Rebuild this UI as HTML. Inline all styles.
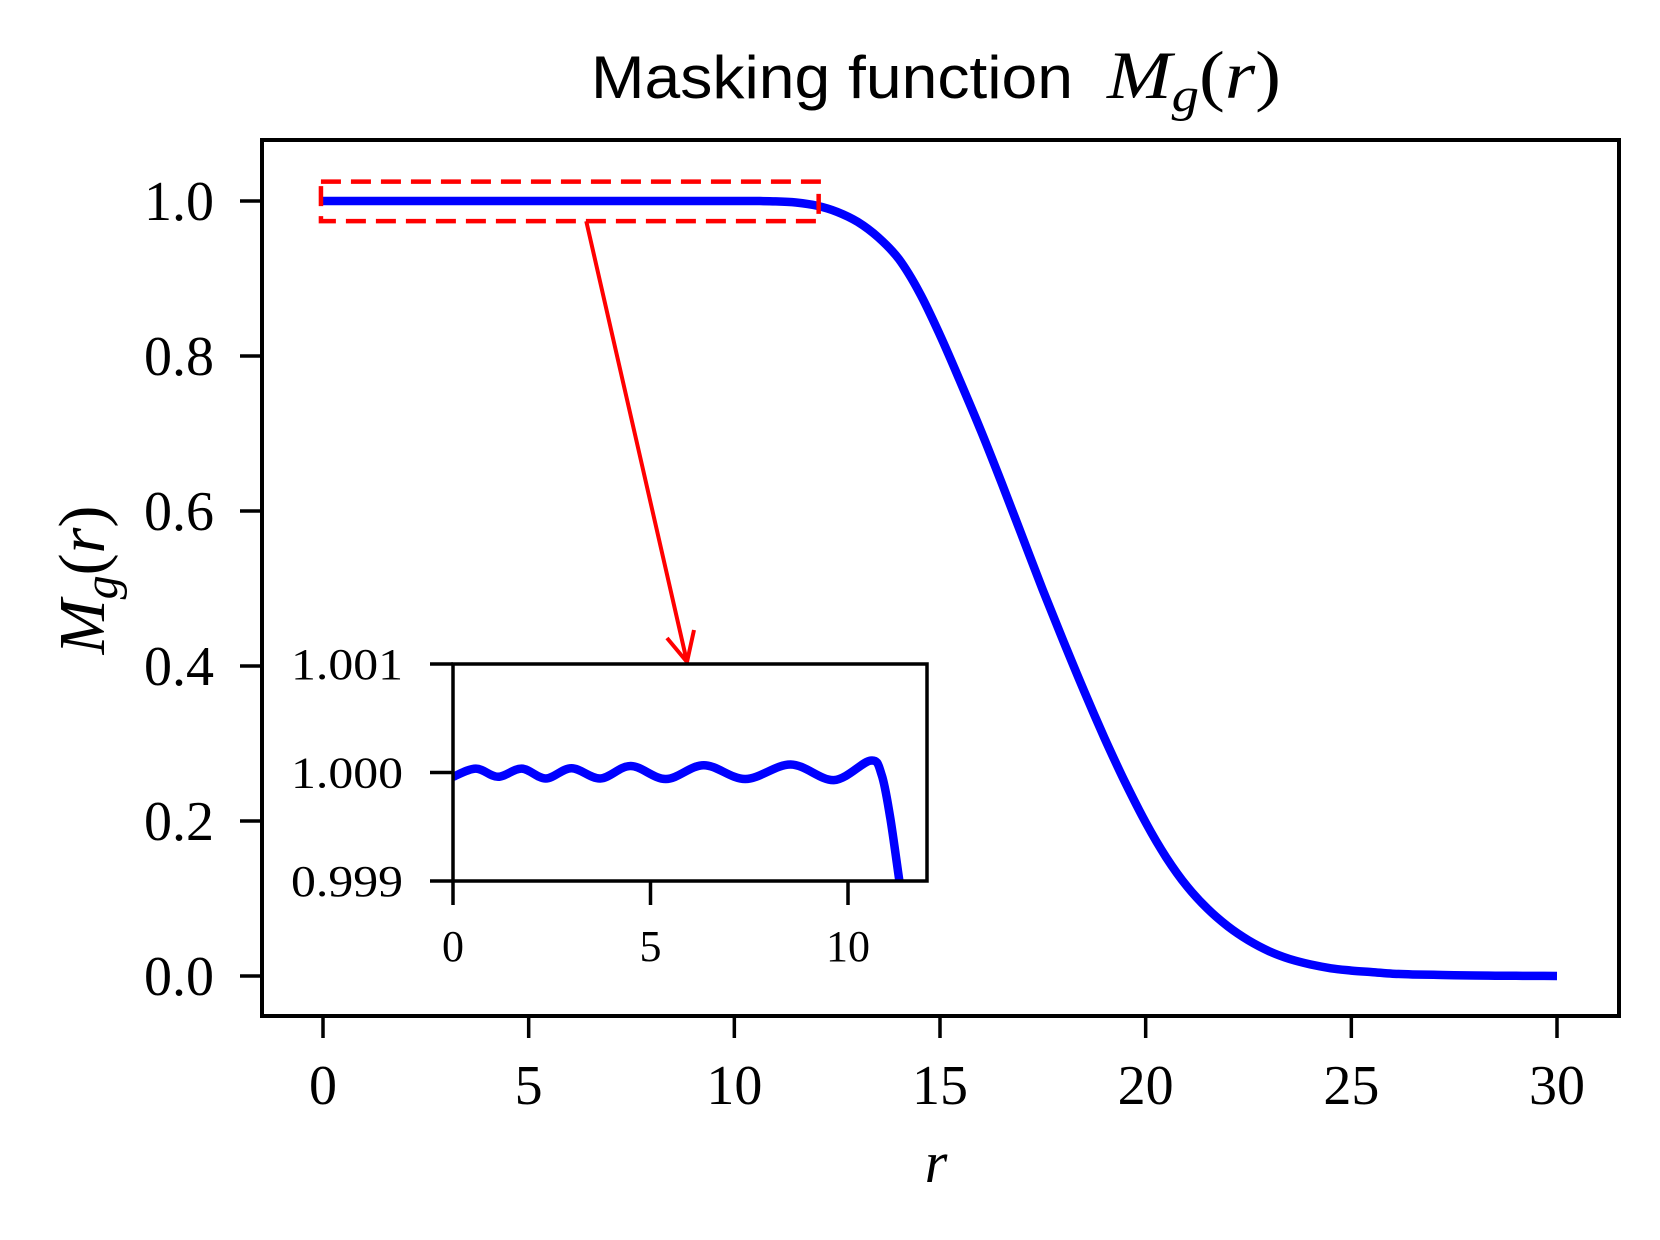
<!DOCTYPE html>
<html><head><meta charset="utf-8"><style>
html,body{margin:0;padding:0;background:#fff;}
svg{display:block;}
text{font-family:"Liberation Serif",serif;fill:#000;}
</style></head><body>
<svg id="chart" width="1660" height="1240" viewBox="0 0 1660 1240">
<g>
<text x="591" y="98" font-size="60" textLength="482" lengthAdjust="spacingAndGlyphs" style="font-family:'Liberation Sans',sans-serif">Masking function</text>
<text x="1107" y="98" font-size="68" textLength="174" lengthAdjust="spacingAndGlyphs"><tspan font-style="italic">M</tspan><tspan font-style="italic" font-size="48" dy="13">g</tspan><tspan dy="-13">(</tspan><tspan font-style="italic">r</tspan>)</text>
</g>
<g id="main"></g>
<g id="inset"></g>
<text x="936" y="1182" text-anchor="middle" font-size="58" font-style="italic">r</text>
<text transform="translate(104,580) rotate(-90)" text-anchor="middle" font-size="66"><tspan font-style="italic">M</tspan><tspan font-style="italic" font-size="48" dy="13">g</tspan><tspan dy="-13">(</tspan><tspan font-style="italic">r</tspan>)</text>
</svg>
<script>
const mainR = [0,1,2,3,4,5,6,7,8,9,10,10.5,11,11.5,12,12.5,13,13.5,14,14.5,15,15.5,16,16.5,17,17.5,18,18.5,19,19.5,20,20.5,21,21.5,22,22.5,23,23.5,24,24.5,25,25.5,26,26.5,27,27.5,28,28.5,29,29.5,30];
const mainM = [1,1,1,1,1,1,1,1,1,1,1,1,0.9995,0.998,0.994,0.986,0.973,0.953,0.925,0.882,0.827,0.766,0.703,0.636,0.567,0.498,0.432,0.368,0.307,0.25,0.198,0.153,0.116,0.087,0.064,0.046,0.032,0.022,0.015,0.01,0.007,0.005,0.003,0.002,0.0015,0.001,0.0007,0.0004,0.0002,0.0001,0];
const insetR = [0,0.58,1.14,1.74,2.35,3.0,3.73,4.5,5.39,6.35,7.4,8.55,9.64,10.57,10.85,11.07,11.3];
const insetDev = [-0.04,0.036,-0.04,0.036,-0.055,0.04,-0.055,0.06,-0.06,0.067,-0.06,0.074,-0.07,0.11,-0.02,-0.42,-1.0];
const xTicks = [0,5,10,15,20,25,30];
const yTicks = [0,0.2,0.4,0.6,0.8,1.0];
const yTickLabels = ["0.0","0.2","0.4","0.6","0.8","1.0"];
const insetXTicks = [0,5,10];
const insetYTicks = [-1,0,1];
const insetYTickLabels = ["0.999","1.000","1.001"];

const NS="http://www.w3.org/2000/svg";
function mk(tag,attrs,parent){const e=document.createElementNS(NS,tag);for(const k in attrs)e.setAttribute(k,attrs[k]);parent.appendChild(e);return e;}
const X=v=>323+(v-0)*(1557-323)/30;
const Y=v=>976-(v)*(976-201);
const IX=v=>453+v*(848-453)/10;
const IY=v=>772.5-v*(881-664)/2;
function smooth(pts){let d="M"+pts[0][0]+","+pts[0][1];
 for(let i=0;i<pts.length-1;i++){const p0=pts[Math.max(0,i-1)],p1=pts[i],p2=pts[i+1],p3=pts[Math.min(pts.length-1,i+2)];
 const c1=[p1[0]+(p2[0]-p0[0])/6,p1[1]+(p2[1]-p0[1])/6],c2=[p2[0]-(p3[0]-p1[0])/6,p2[1]-(p3[1]-p1[1])/6];
 d+=" C"+c1[0].toFixed(1)+","+c1[1].toFixed(1)+" "+c2[0].toFixed(1)+","+c2[1].toFixed(1)+" "+p2[0].toFixed(1)+","+p2[1].toFixed(1);}
 return d;}
const main=document.getElementById('main');
xTicks.forEach(t=>{
 const l=mk('line',{x1:X(t),x2:X(t),y1:1016,y2:1038,stroke:'#000','stroke-width':3.5},main);
 
 
 const tx=mk('text',{x:X(t),y:1104,'text-anchor':'middle','font-size':56},main);tx.textContent=t;
 
 
});
yTicks.forEach((t,i)=>{
 const l=mk('line',{x1:240,x2:262,y1:Y(t),y2:Y(t),stroke:'#000','stroke-width':3.5},main);
 
 
 const tx=mk('text',{x:214,y:Y(t)+19,'text-anchor':'end','font-size':56},main);tx.textContent=yTickLabels[i];
 
 
});
const curve=mk('path',{d:smooth(mainR.map((r,i)=>[X(r),Y(mainM[i])])),fill:'none',stroke:'#0000ff','stroke-width':8.5,'stroke-linejoin':'round'},main);


const rect=mk('rect',{x:X(-0.05),y:Y(1.025),width:X(12.05)-X(-0.05),height:Y(0.974)-Y(1.025),fill:'none',stroke:'#ff0000','stroke-width':4.5,'stroke-dasharray':'20,10'},main);


const ar=mk('path',{d:`M${X(6.4)},${Y(0.974)} L687,662 M667,638 L687,662 L694,630`,fill:'none',stroke:'#ff0000','stroke-width':4,'stroke-linejoin':'miter'},main);


const frame=mk('rect',{x:262,y:140,width:1357,height:876,fill:'none',stroke:'#000','stroke-width':4},main);



const inset=document.getElementById('inset');
mk('rect',{x:453,y:664,width:474,height:217,fill:'#fff'},inset);
const defs=mk('defs',{},inset);
const cp=mk('clipPath',{id:'ic'},defs);mk('rect',{x:453,y:664,width:474,height:217},cp);
const ic=mk('path',{d:smooth(insetR.map((r,i)=>[IX(r),IY(insetDev[i])])),fill:'none',stroke:'#0000ff','stroke-width':8.5,'clip-path':'url(#ic)'},inset);


insetXTicks.forEach(t=>{
 const l=mk('line',{x1:IX(t),x2:IX(t),y1:881,y2:905,stroke:'#000','stroke-width':3.5},inset);
 
 
 const tx=mk('text',{x:IX(t),y:961,'text-anchor':'middle','font-size':44},inset);tx.textContent=t;
 
 
});
insetYTicks.forEach((t,i)=>{
 const l=mk('line',{x1:430,x2:453,y1:IY(t),y2:IY(t),stroke:'#000','stroke-width':3.5},inset);
 
 
 const tx=mk('text',{x:403,y:IY(t)+15,'text-anchor':'end','font-size':44,textLength:112,lengthAdjust:'spacingAndGlyphs'},inset);tx.textContent=insetYTickLabels[i];
 
 
});
const iframe=mk('rect',{x:453,y:664,width:474,height:217,fill:'none',stroke:'#000','stroke-width':3.5},inset);


</script>
</body></html>
